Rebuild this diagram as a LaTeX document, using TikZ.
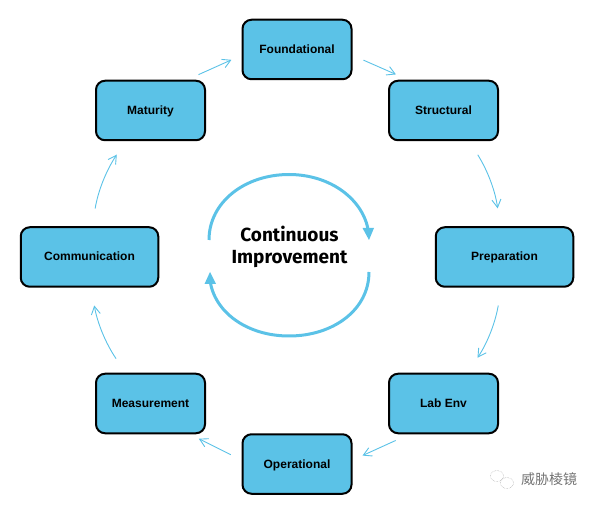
\documentclass[tikz,border=0pt]{standalone}
\usepackage{fontspec}
\setmainfont{Liberation Sans}
\newfontfamily\titlefont{Fira Sans}
\newfontfamily\cjk{Noto Sans CJK SC}
\usetikzlibrary{arrows.meta}
\definecolor{sky}{HTML}{5BC2E7}
\tikzset{
  stage/.style={draw=black,line width=2pt,fill=sky,rounded corners=9pt,font=\fontsize{12}{14}\selectfont\bfseries,text=black,inner sep=0pt,minimum height=59.5pt,text height=10pt,text depth=2pt},
  narrow/.style={stage,minimum width=109pt},
  wide/.style={stage,minimum width=137.5pt},
  flow/.style={draw=sky,line width=0.9pt,-{Straight Barb[length=8pt,width=9pt,line width=0.9pt]}},
  cycle/.style={draw=sky,line width=3pt},
  cyclehead/.style={fill=sky,draw=none},
}
\begin{document}
\begin{tikzpicture}[x=1pt,y=-1pt]
\useasboundingbox (0,0) rectangle (595,505);
\node[narrow] (foundational) at (297,49.5) {Foundational};
\node[narrow] (structural) at (443.5,110.5) {Structural};
\node[wide] (preparation) at (504.5,257) {Preparation};
\node[narrow] (labenv) at (443.5,403.5) {Lab Env};
\node[narrow] (operational) at (297,464) {Operational};
\node[narrow] (measurement) at (150.5,403.5) {Measurement};
\node[wide] (communication) at (89.5,257) {Communication};
\node[narrow] (maturity) at (150.5,110.5) {Maturity};

\draw[flow,shorten <=12.5pt,shorten >=11pt] (maturity.40.7) -- (foundational.186);
\draw[flow,shorten <=12pt,shorten >=13.3pt] (foundational.354) -- (structural.139.5);
\draw[flow,shorten <=16pt,shorten >=18pt] (structural.-50.3) to[bend left=12] (preparation.98.5);
\draw[flow,shorten <=18pt,shorten >=18pt] (preparation.-96.7) to[bend left=12] (labenv.52);
\draw[flow,shorten <=15pt,shorten >=11pt] (labenv.222.7) -- (operational.4);
\draw[flow,shorten <=12pt,shorten >=10pt] (operational.176.6) -- (measurement.-38);
\draw[flow,shorten <=17pt,shorten >=18pt] (measurement.129) to[bend left=12] (communication.-87);
\draw[flow,shorten <=18pt,shorten >=16pt] (communication.85) to[bend left=12] (maturity.231.5);

\draw[cycle] (209,240) .. controls (209,202) and (245,174.5) .. (289,174.5) .. controls (331,174.5) and (364,200) .. (368.5,232);
\fill[cyclehead] (369,240) -- (362.5,228) -- (374,228) -- cycle;
\draw[cycle] (369,272) .. controls (369,310) and (333,336) .. (289,336) .. controls (247,336) and (214,312) .. (210,280);
\fill[cyclehead] (210,272) -- (204.5,284) -- (216,284) -- cycle;

\node[font=\titlefont\fontsize{19}{22.5}\selectfont\bfseries,align=center,text=black,inner sep=0pt] (title) at (289.5,247) {Continuous\\Improvement};

\draw[black!35,line width=0.5pt,densely dotted] (497,476) ellipse [x radius=6.5pt,y radius=5.5pt];
\draw[black!35,line width=0.5pt,densely dotted] (507,483) ellipse [x radius=6.5pt,y radius=5.5pt];
\node[font=\cjk\fontsize{14}{16}\selectfont,text=black!55,inner sep=0pt] (mark) at (549,479) {威胁棱镜};
\end{tikzpicture}
\end{document}
